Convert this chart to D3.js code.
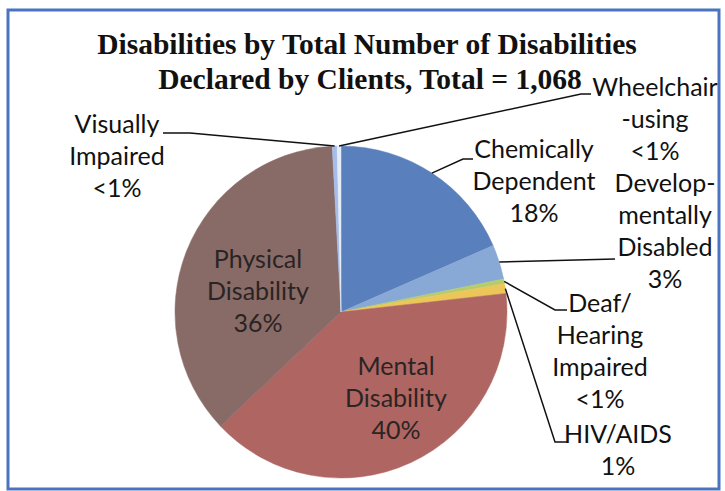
<!DOCTYPE html>
<html>
<head>
<meta charset="utf-8">
<script src="https://cdn.jsdelivr.net/npm/d3@7"></script>
<style>
  body { margin: 0; background: #fff; }
  svg { display: block; }
</style>
</head>
<body>
<script>
// chart data
const categories = ["Chemically Dependent", "Developmentally Disabled", "Deaf/Hearing Impaired", "HIV/AIDS",
    "Mental Disability", "Physical Disability", "Visually Impaired", "Wheelchair-using"];
const counts = [197, 36, 5, 10, 424, 387, 5, 4];   // total = 1,068
const percentLabels = ["18%", "3%", "<1%", "1%", "40%", "36%", "<1%", "<1%"];
const labelLines = [
    ["Chemically", "Dependent"],
    ["Develop-", "mentally", "Disabled"],
    ["Deaf/", "Hearing", "Impaired"],
    ["HIV/AIDS"],
    ["Mental", "Disability"],
    ["Physical", "Disability"],
    ["Visually", "Impaired"],
    ["Wheelchair", "-using"]
];
const titleLines = ["Disabilities by Total Number of Disabilities", "Declared by Clients, Total = 1,068"];

const colors = ["#5a7fbd", "#88a9d5", "#b6cc6c", "#ecc658", "#af6662", "#886b66", "#a6bce9", "#e4ecf8"];

const width = 725, height = 491;
const cx = 341, cy = 312, radius = 166;
const lineH = 32;

// label placement (x, first baseline) and leader elbows; null = label inside slice
const labelPos = [
    { x: 534, y: 158, leader: [[463, 159], [473, 159]] },
    { x: 665, y: 192, leader: [[615, 259]] },
    { x: 600, y: 312, leader: [[555, 310], [567, 310]] },
    { x: 618, y: 443, leader: [[555, 442], [567, 442]] },
    { x: 396, y: 375, leader: null },
    { x: 258, y: 268, leader: null },
    { x: 117, y: 133, leader: [[190, 133], [163, 133]] },
    { x: 655, y: 96, leader: [[581, 94], [591, 94]] }
];

const svg = d3.select("body").append("svg")
    .attr("width", width)
    .attr("height", height);

// frame
svg.append("rect")
    .attr("x", 8).attr("y", 10)
    .attr("width", 711).attr("height", 479)
    .attr("fill", "none")
    .attr("stroke", "#4a74c2")
    .attr("stroke-width", 3);

// title
svg.append("g").selectAll("text")
    .data(titleLines)
    .enter().append("text")
    .attr("x", (d, i) => i === 0 ? 367 : 370)
    .attr("y", (d, i) => 54 + i * 35)
    .attr("text-anchor", "middle")
    .attr("font-family", "Liberation Serif, Times New Roman, serif")
    .attr("font-weight", "bold")
    .attr("font-size", 29.5)
    .attr("fill", "#111")
    .text(d => d);

const data = categories.map((c, i) => ({ name: c, value: counts[i], pct: percentLabels[i], lines: labelLines[i], color: colors[i], pos: labelPos[i] }));

const pie = d3.pie().sort(null).value(d => d.value);
const arcs = pie(data);
const arc = d3.arc().innerRadius(0).outerRadius(radius);

const g = svg.append("g").attr("transform", `translate(${cx},${cy})`);

g.selectAll("path")
    .data(arcs)
    .enter().append("path")
    .attr("d", arc)
    .attr("fill", d => d.data.color)
    .attr("stroke", d => d.data.color)
    .attr("stroke-width", 0.5);

// leader lines from the slice edge at mid-angle
const edgePoint = a => {
    const m = (a.startAngle + a.endAngle) / 2;
    return [cx + radius * Math.sin(m), cy - radius * Math.cos(m)];
};

svg.append("g").selectAll("path")
    .data(arcs.filter(a => a.data.pos.leader))
    .enter().append("path")
    .attr("d", a => d3.line()([edgePoint(a), ...a.data.pos.leader]))
    .attr("fill", "none")
    .attr("stroke", "#111")
    .attr("stroke-width", 1.5);

// labels
const labels = svg.append("g").selectAll("text")
    .data(arcs)
    .enter().append("text")
    .attr("text-anchor", "middle")
    .attr("font-family", "Lato, Open Sans, sans-serif")
    .attr("font-size", 25)
    .attr("fill", d => d.data.pos.leader ? "#111" : "#2a2424");

labels.selectAll("tspan")
    .data(d => [...d.data.lines, d.data.pct].map(t => ({ t, pos: d.data.pos })))
    .enter().append("tspan")
    .attr("x", d => d.pos.x)
    .attr("y", (d, i) => d.pos.y + i * lineH)
    .text(d => d.t);
</script>
</body>
</html>
